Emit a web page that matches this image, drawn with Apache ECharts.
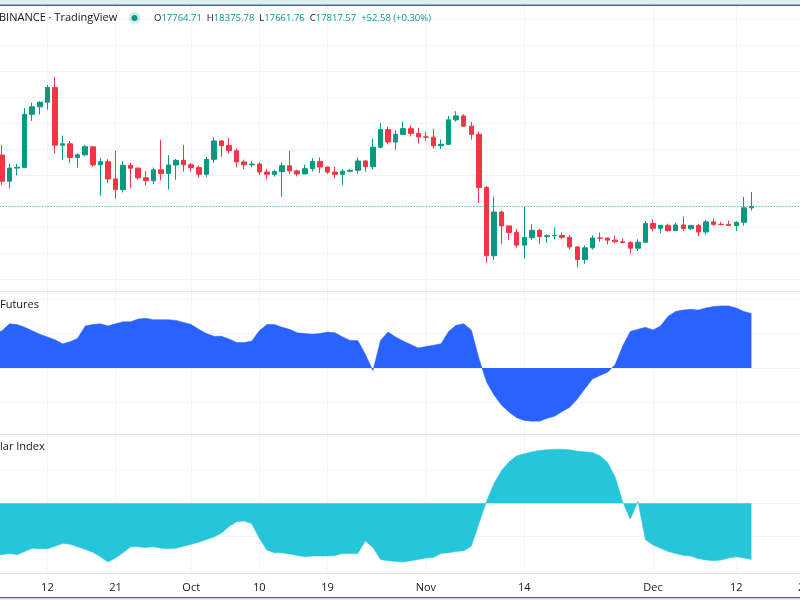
<!DOCTYPE html>
<html>
<head>
<meta charset="utf-8">
<script src="https://cdn.jsdelivr.net/npm/echarts@6/dist/echarts.min.js"></script>
<style>html,body{margin:0;padding:0;background:#fff;}#c{width:800px;height:600px;}</style>
</head>
<body>
<div id="c"></div>
<script>
// ---- categories (daily, 2022) ----
const categories = [
 '09-05','09-06','09-07','09-08','09-09','09-10','09-11','09-12','09-13','09-14','09-15','09-16','09-17','09-18','09-19','09-20','09-21','09-22','09-23','09-24','09-25','09-26','09-27','09-28','09-29','09-30',
 '10-01','10-02','10-03','10-04','10-05','10-06','10-07','10-08','10-09','10-10','10-11','10-12','10-13','10-14','10-15','10-16','10-17','10-18','10-19','10-20','10-21','10-22','10-23','10-24','10-25','10-26','10-27','10-28','10-29','10-30','10-31',
 '11-01','11-02','11-03','11-04','11-05','11-06','11-07','11-08','11-09','11-10','11-11','11-12','11-13','11-14','11-15','11-16','11-17','11-18','11-19','11-20','11-21','11-22','11-23','11-24','11-25','11-26','11-27','11-28','11-29','11-30',
 '12-01','12-02','12-03','12-04','12-05','12-06','12-07','12-08','12-09','12-10','12-11','12-12','12-13','12-14','12-15','12-16','12-17','12-18','12-19','12-20','12-21'
];
// ---- tick labels ----
const tickDates = ['09-12','09-21','10-01','10-10','10-19','11-01','11-14','12-01','12-12','12-21'];
const tickTexts = ['12','21','Oct','10','19','Nov','14','Dec','12','21'];
// ---- candles: [open, close, low, high] ----
const candles = [
 [19999,19796,19636,20058],[19796,18790,18649,20180],[18790,19292,18510,19464],[19292,19319,19012,19458],[19319,21361,19291,21597],
 [21361,21648,21111,21810],[21648,21826,21350,21860],[21826,22396,21538,22488],[22396,20173,19860,22799],[20173,20226,19617,20541],
 [20227,19701,19497,20330],[19701,19803,19320,19861],[19803,20114,19748,20189],[20113,19416,19335,20115],[19417,19537,18232,19686],
 [19538,18876,18711,19634],[18875,18461,18125,19956],[18461,19401,18356,19550],[19401,19289,18531,19500],[19289,18920,18842,19316],
 [18920,18807,18629,19180],[18807,19227,18680,19316],[19227,19079,18816,20385],[19079,19412,18471,19790],[19412,19591,18843,19645],
 [19590,19422,19155,20185],
 [19422,19310,19159,19484],[19312,19057,18920,19395],[19056,19630,18956,19719],[19630,20337,19490,20475],[20337,20158,19730,20365],
 [20158,19960,19854,20456],[19960,19531,19320,20060],[19531,19417,19255,19622],[19417,19446,19320,19559],[19446,19141,19020,19527],
 [19141,19052,18860,19268],[19052,19157,18965,19233],[19156,19382,18190,19513],[19382,19185,19070,19951],[19185,19068,18975,19230],
 [19068,19268,19063,19425],[19268,19550,19160,19676],[19550,19334,19098,19706],[19334,19139,19070,19348],[19139,19053,18900,19345],
 [19053,19172,18650,19250],[19172,19208,19132,19248],[19208,19567,19072,19695],[19567,19345,19157,19601],[19345,20095,19240,20415],
 [20095,20771,20050,21020],[20771,20295,20200,20872],[20295,20591,20000,20750],[20591,20809,20554,21085],[20809,20627,20515,20931],
 [20627,20491,20237,20845],
 [20491,20483,20341,20685],[20483,20151,20048,20800],[20151,20207,20032,20393],[20207,21148,20180,21302],[21148,21299,21080,21480],
 [21299,20905,20880,21365],[20905,20591,20385,21070],[20591,18548,17950,20700],[18548,15922,15650,18600],[15922,17602,15754,18195],
 [17602,17070,16361,17655],[17070,16812,16526,17073],[16812,16330,16229,16954],[16330,16619,15815,17800],[16619,16900,16527,17134],
 [16900,16662,16378,16960],[16662,16692,16410,16751],[16692,16700,16546,17011],[16700,16631,16553,16820],[16631,16260,16172,16730],
 [16260,15781,15476,16291],[15781,16226,15617,16315],[16226,16603,16160,16706],[16603,16598,16458,16812],[16598,16522,16353,16634],
 [16522,16458,16400,16701],[16458,16428,16400,16600],[16428,16213,16001,16482],[16213,16442,16108,16556],[16442,17163,16428,17249],
 [17164,16977,16855,17320],[16977,17092,16787,17105],[17092,16885,16855,17158],[16885,17105,16878,17202],[17105,16967,16867,17424],
 [16967,17088,16905,17107],[17088,16836,16678,17142],[16836,17224,16733,17299],[17224,17128,17060,17360],[17128,17127,17091,17227],
 [17127,17085,17071,17271],[17085,17209,16872,17241],[17209,17765,17080,18180],[17764.71,17817.57,17661.76,18375.78]
];
// ---- indicator: correlation with futures ----
const futuresCorr = [
 0.48,
 0.54,0.64,0.63,0.59,0.54,0.49,0.45,0.41,0.35,0.38,
 0.43,0.61,0.63,0.64,0.61,0.64,0.67,0.67,0.71,0.72,
 0.70,0.70,0.70,0.69,0.66,0.63,0.56,0.50,0.46,0.46,
 0.42,0.37,0.37,0.39,0.54,0.63,0.63,0.59,0.56,0.51,
 0.50,0.49,0.50,0.52,0.51,0.45,0.40,0.40,0.20,-0.04,
 0.40,0.52,0.45,0.39,0.34,0.29,0.31,0.33,0.35,0.53,
 0.62,0.64,0.55,0.14,-0.20,-0.39,-0.54,-0.64,-0.72,-0.76,
 -0.77,-0.77,-0.73,-0.70,-0.63,-0.57,-0.45,-0.30,-0.16,-0.11,
 -0.06,0.05,0.32,0.53,0.56,0.59,0.55,0.61,0.75,0.82,
 0.84,0.85,0.84,0.87,0.89,0.90,0.90,0.87,0.82,0.79
];
// ---- indicator: correlation with dollar index ----
const dollarCorr = [
 -0.78,
 -0.78,-0.76,-0.78,-0.73,-0.68,-0.69,-0.69,-0.65,-0.61,-0.62,
 -0.66,-0.70,-0.74,-0.81,-0.89,-0.83,-0.75,-0.66,-0.66,-0.67,
 -0.66,-0.68,-0.69,-0.68,-0.65,-0.62,-0.59,-0.55,-0.51,-0.45,
 -0.35,-0.28,-0.27,-0.31,-0.53,-0.71,-0.75,-0.75,-0.77,-0.79,
 -0.81,-0.80,-0.80,-0.80,-0.79,-0.76,-0.76,-0.76,-0.57,-0.67,
 -0.85,-0.87,-0.88,-0.89,-0.87,-0.85,-0.83,-0.82,-0.76,-0.75,
 -0.73,-0.72,-0.65,-0.31,0.03,0.30,0.50,0.63,0.72,0.75,
 0.78,0.80,0.81,0.82,0.82,0.81,0.79,0.78,0.77,0.72,
 0.62,0.40,0.02,-0.24,0.03,-0.55,-0.63,-0.68,-0.73,-0.76,
 -0.79,-0.80,-0.84,-0.86,-0.87,-0.86,-0.83,-0.81,-0.83,-0.85
];
const headerLabels = ['O','H','L','C'];
const headerValues = ['17764.71','18375.78','17661.76','17817.57'];
const headerChange = '+52.58 (+0.30%)';
const titleText = 'BINANCE \u00b7 TradingView';
const pane2Title = 'Futures';
const pane3Title = 'lar Index';

const UP = '#089981', DOWN = '#f23645', GRIDC = '#f0f3fa', SEP = '#e0e3eb', TXT = '#131722';
const FONT = '"Open Sans", "Noto Sans", sans-serif';
const lastClose = candles[candles.length - 1][1];

const isTick = (idx, val) => tickDates.indexOf(val) >= 0;

function hiddenX(gi) {
  return {type:'category', gridIndex:gi, data:categories, boundaryGap:true,
    axisLine:{show:false}, axisTick:{show:false}, axisLabel:{show:false}, splitLine:{show:false}};
}

let rich = {l:{fill:TXT, fontSize:9.5, fontFamily:FONT}, v:{fill:UP, fontSize:9.5, fontFamily:FONT}};
let hdr = headerLabels.map((l,i)=>'{l|'+l+'}{v|'+headerValues[i]+'}').join('{v|  }') + '{v|  ' + headerChange + '}';

const chart = echarts.init(document.getElementById('c'), null, {renderer:'canvas'});
chart.setOption({
  animation:false,
  backgroundColor:'#ffffff',
  grid:[
    {left:-9.4, right:-8.2, top:19.7, height:260, containLabel:false, outerBoundsMode:'none'},
    {left:-9.4, right:-8.2, top:299, height:138, containLabel:false, outerBoundsMode:'none'},
    {left:-9.4, right:-8.2, top:437.3, height:132, containLabel:false, outerBoundsMode:'none'},
    {left:-5.6, right:-4.4, top:6, height:567, containLabel:false, outerBoundsMode:'none'}
  ],
  xAxis:[
    hiddenX(0), hiddenX(1), hiddenX(2),
    {type:'category', gridIndex:3, data:categories, boundaryGap:false,
      axisLine:{show:false}, axisTick:{show:false},
      axisLabel:{show:true, interval:isTick, margin:9, color:TXT, fontSize:11, fontFamily:FONT,
        formatter:(v)=>{const k=tickDates.indexOf(v); return k>=0?tickTexts[k]:'';}},
      splitLine:{show:true, interval:isTick, lineStyle:{color:GRIDC, width:1}}}
  ],
  yAxis:[
    {type:'value', gridIndex:0, min:15000, max:25000, interval:1000, position:'right',
      axisLine:{show:false}, axisTick:{show:false}, axisLabel:{show:false},
      splitLine:{show:true, lineStyle:{color:GRIDC}}},
    {type:'value', gridIndex:1, min:-1, max:1, interval:0.5, position:'right',
      axisLine:{show:false}, axisTick:{show:false}, axisLabel:{show:false},
      splitLine:{show:true, lineStyle:{color:['transparent',GRIDC,GRIDC,GRIDC,GRIDC]}}},
    {type:'value', gridIndex:2, min:-1, max:1, interval:0.5, position:'right',
      axisLine:{show:false}, axisTick:{show:false}, axisLabel:{show:false},
      splitLine:{show:true, lineStyle:{color:['transparent',GRIDC,GRIDC,GRIDC,'transparent']}}},
    {type:'value', gridIndex:3, min:0, max:1, show:false, splitLine:{show:false}}
  ],
  series:[
    {type:'candlestick', xAxisIndex:0, yAxisIndex:0, data:candles, barWidth:5,
      itemStyle:{color:UP, color0:DOWN, borderColor:UP, borderColor0:DOWN, borderWidth:1},
      markLine:{silent:true, symbol:['none','none'], label:{show:false},
        lineStyle:{color:UP, type:[1,2], width:1}, data:[{yAxis:lastClose}]}},
    {type:'line', xAxisIndex:1, yAxisIndex:1, data:futuresCorr, showSymbol:false, smooth:false,
      lineStyle:{width:0.5, color:'#2962ff'}, itemStyle:{color:'#2962ff'},
      areaStyle:{color:'#2962ff', opacity:1}},
    {type:'line', xAxisIndex:2, yAxisIndex:2, data:dollarCorr, showSymbol:false, smooth:false,
      lineStyle:{width:0.5, color:'#26c6da'}, itemStyle:{color:'#26c6da'},
      areaStyle:{color:'#26c6da', opacity:1}}
  ],
  graphic:[
    {type:'rect', z:100, shape:{x:0, y:0, width:800, height:4.5}, style:{fill:'#e9e9ef'}},
    {type:'rect', z:100, shape:{x:0, y:4.5, width:800, height:1.5}, style:{fill:'#2962ff'}},
    {type:'rect', z:100, shape:{x:0, y:597, width:800, height:1.5}, style:{fill:'#2962ff'}},
    {type:'rect', z:100, shape:{x:0, y:598.5, width:800, height:1.5}, style:{fill:'#e9e9ef'}},
    {type:'line', z:100, shape:{x1:0, y1:291.5, x2:800, y2:291.5}, style:{stroke:SEP, lineWidth:1}},
    {type:'line', z:100, shape:{x1:0, y1:434.5, x2:800, y2:434.5}, style:{stroke:SEP, lineWidth:1}},
    {type:'line', z:100, shape:{x1:0, y1:573.5, x2:800, y2:573.5}, style:{stroke:SEP, lineWidth:1}},
    {type:'text', z:100, x:-1, y:18, style:{text:titleText, fill:TXT, font:'11px '+FONT, verticalAlign:'middle'}},
    {type:'circle', z:100, shape:{cx:134.5, cy:18, r:6}, style:{fill:'rgba(8,153,129,0.18)'}},
    {type:'circle', z:101, shape:{cx:134.5, cy:18, r:3}, style:{fill:UP}},
    {type:'text', z:100, x:154, y:18, style:{text:hdr, rich:rich, verticalAlign:'middle', font:'9.5px '+FONT}},
    {type:'text', z:100, x:0, y:305, style:{text:pane2Title, fill:TXT, font:'11px '+FONT, verticalAlign:'middle'}},
    {type:'text', z:100, x:0, y:447, style:{text:pane3Title, fill:TXT, font:'11px '+FONT, verticalAlign:'middle'}}
  ]
});
</script>
</body>
</html>
